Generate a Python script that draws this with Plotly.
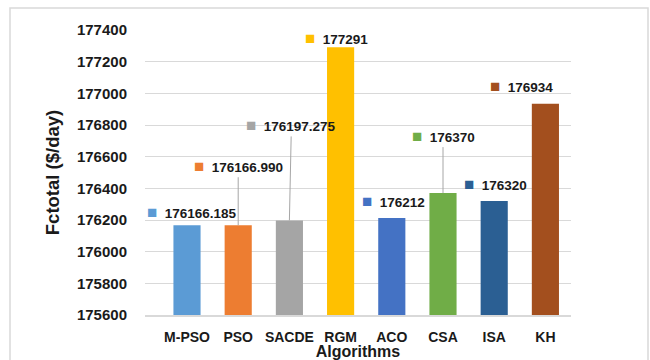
import plotly.graph_objects as go

algorithms = ["M-PSO", "PSO", "SACDE", "RGM", "ACO", "CSA", "ISA", "KH"]
fctotal = [176166.185, 176166.990, 176197.275, 177291, 176212, 176370, 176320, 176934]
value_labels = ["176166.185", "176166.990", "176197.275", "177291", "176212", "176370", "176320", "176934"]
y_ticks = [175600, 175800, 176000, 176200, 176400, 176600, 176800, 177000, 177200, 177400]

# styling
bar_colors = ["#5B9BD5", "#ED7D31", "#A5A5A5", "#FFC000", "#4472C4", "#70AD47", "#2B5F93", "#A34F1E"]
label_offsets = [(5, -13), (0, -59), (2, -95), (-4, -9), (2, -17), (0, -57), (1, -17), (-24, -17)]
leader = [False, True, True, False, False, True, False, False]

FONT = "Liberation Sans"
TXT = "#1a1a1a"

fig = go.Figure()
fig.add_trace(go.Bar(
    x=algorithms, y=fctotal,
    marker=dict(color=bar_colors, line=dict(width=0)),
    width=0.53,
    hoverinfo="x+y",
))

for i, (cat, val, lab) in enumerate(zip(algorithms, fctotal, value_labels)):
    ax, ay = label_offsets[i]
    fig.add_annotation(
        x=cat, y=val, xref="x", yref="y",
        text=f'<span style="color:{bar_colors[i]};font-size:17px">■</span>\u00a0\u00a0{lab}',
        showarrow=True, arrowhead=0, arrowwidth=1,
        arrowcolor="#A6A6A6" if leader[i] else "rgba(0,0,0,0)",
        ax=ax, ay=ay,
        font=dict(family=FONT, size=13.5, color=TXT, weight="bold"),
    )

# outer border
fig.add_shape(type="rect", xref="paper", yref="paper",
              x0=(10 - 145) / 426, x1=(648 - 145) / 426,
              y0=-0.5, y1=(315 - 8) / 285,
              line=dict(color="#D9D9D9", width=1.5), fillcolor="rgba(0,0,0,0)", layer="below")

fig.update_layout(
    width=650, height=360,
    margin=dict(l=145, r=79, t=30, b=45),
    paper_bgcolor="white", plot_bgcolor="white",
    showlegend=False,
    font=dict(family=FONT, color=TXT),
    xaxis=dict(
        title=dict(text="Algorithms", font=dict(size=16, weight="bold", family=FONT, color=TXT), standoff=0),
        tickfont=dict(size=14, weight="bold", family=FONT, color=TXT),
        ticks="outside", ticklen=8, tickcolor="rgba(0,0,0,0)",
        showline=True, linecolor="#D9D9D9", linewidth=1.5,
        showgrid=False, automargin=False,
    ),
    yaxis=dict(
        title=dict(text="Fctotal ($/day)", font=dict(size=18.5, weight="bold", family=FONT, color=TXT), standoff=12),
        range=[175600, 177400], tickvals=y_ticks, tickformat="d",
        tickfont=dict(size=15, weight="bold", family=FONT, color=TXT),
        ticks="outside", ticklen=14, tickcolor="rgba(0,0,0,0)",
        showgrid=True, gridcolor="#D9D9D9", gridwidth=1,
        zeroline=False, showline=False, automargin=False,
    ),
)

fig.write_html("out.html")
